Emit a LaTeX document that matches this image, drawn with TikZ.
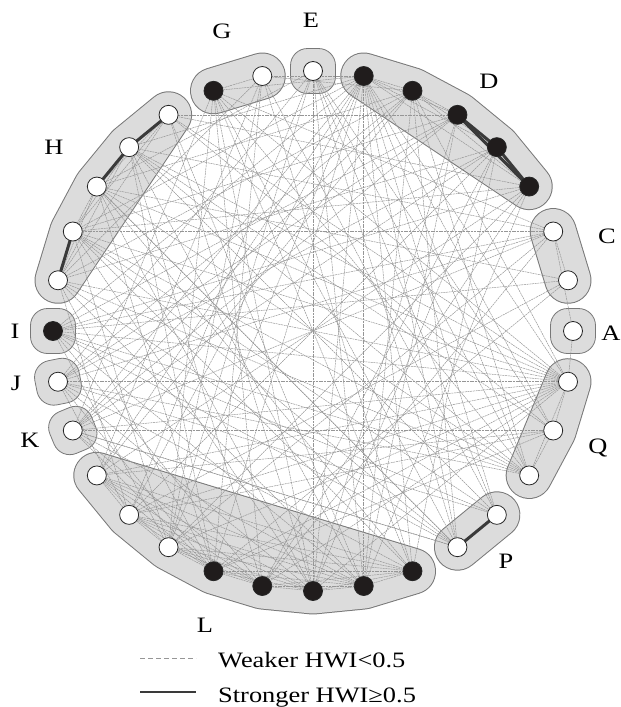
\documentclass[tikz,border=0pt]{standalone}
\usepackage{fontspec}
\setmainfont{Liberation Serif}[FakeStretch=1.2]
\definecolor{hullline}{RGB}{120,120,120}
\definecolor{hullfill}{RGB}{220,220,220}
\definecolor{edgec}{RGB}{150,150,150}
\definecolor{strongc}{RGB}{58,58,58}
\definecolor{nodeblack}{RGB}{32,28,28}
\pgfdeclarelayer{hulllayer}
\pgfdeclarelayer{edgelayer}
\pgfsetlayers{hulllayer,edgelayer,main}
\newcommand\myhulls[1]{%
  \path[#1] (n9.center) -- (n10.center) -- cycle;
  \path[#1] (n3.center) -- (n4.center) -- (n5.center) -- (n6.center) -- (n7.center) -- cycle;
  \path[#1] (n1.center) -- (n2.center) -- cycle;
  \path[#1] (n29.center) -- (n30.center) -- (n31.center) -- cycle;
  \path[#1] (n27.center) -- (n28.center) -- cycle;
  \path[#1] (n19.center) -- (n20.center) -- (n21.center) -- (n22.center) -- (n23.center) -- (n24.center) -- (n25.center) -- (n26.center) -- cycle;
  \path[#1] (n11.center) -- (n12.center) -- (n13.center) -- (n14.center) -- (n15.center) -- cycle;
}
\begin{document}
\begin{tikzpicture}[x=1pt,y=-1pt,
  vtx/.style={circle, draw=black!85, line width=0.8pt, minimum size=19pt, inner sep=0pt},
  wv/.style={vtx, fill=white},
  bv/.style={vtx, fill=nodeblack},
  weak/.style={draw=edgec, line width=0.5pt, dash pattern=on 2pt off 0.7pt},
  strong/.style={draw=strongc, line width=3pt},
  hullout/.style={draw=hullline, fill=hullline, line width=47pt, line join=round, line cap=round},
  hullin/.style={draw=hullfill, fill=hullfill, line width=45pt, line join=round, line cap=round},
  onehull/.style={shape=rectangle, draw=hullline, fill=hullfill, line width=0.8pt, rounded corners=17pt, minimum size=45pt, inner sep=0pt},
  lab/.style={font=\fontsize{22}{26}\selectfont, anchor=base, inner sep=0pt}]
\useasboundingbox (0,0) rectangle (621,707);

% vertices
\foreach \i/\s in {0/wv,1/wv,2/wv,3/bv,4/bv,5/bv,6/bv,7/bv,8/wv,9/wv,10/bv,11/wv,12/wv,13/wv,14/wv,15/wv,16/bv,17/wv,18/wv,19/wv,20/wv,21/wv,22/bv,23/bv,24/bv,25/bv,26/bv,27/wv,28/wv,29/wv,30/wv,31/wv}{
  \pgfmathsetmacro\px{313+260*cos(\i*11.25)}
  \pgfmathsetmacro\py{331-260*sin(\i*11.25)}
  \node[\s] (n\i) at (\px,\py) {};
}

% group hulls
\begin{pgfonlayer}{hulllayer}
\myhulls{hullout}
\myhulls{hullin}
\foreach \i in {0,8,16,17,18}{
  \node[onehull, rotate=\i*11.25] (h\i) at (n\i.center) {};
}
\end{pgfonlayer}

% connectors
\begin{pgfonlayer}{edgelayer}
\foreach \a/\b in {3/6,3/7,4/6,4/7,5/6,5/7,6/7,
  11/13,11/14,11/15,12/14,12/15,13/14,13/15,
  19/20,19/21,19/22,19/23,19/24,19/25,19/26,20/21,20/22,20/23,20/24,20/25,20/26,
  21/22,21/23,21/24,21/25,21/26,22/23,22/24,22/25,22/26,23/24,23/25,23/26,24/25,24/26,25/26,
  29/30,30/31,29/31,1/2,9/10,
  0/31,0/2,
  31/6,31/7,31/10,31/11,31/12,31/13,31/14,31/15,31/16,31/17,31/18,31/19,31/20,31/21,31/22,31/23,31/24,
  30/18,30/20,30/22,30/12,30/8,30/19,
  29/16,29/17,29/10,29/8,29/6,29/12,29/13,
  28/7,28/9,28/14,28/17,28/12,
  27/7,27/8,27/13,27/14,27/16,27/18,
  2/14,2/16,2/17,2/18,2/21,2/10,2/23,2/12,
  1/16,1/22,1/13,1/20,
  3/16,3/19,3/21,3/23,3/25,3/11,3/14,
  4/15,4/17,4/18,4/20,4/23,4/24,4/26,
  5/14,5/18,5/17,5/24,5/25,5/16,5/11,
  6/13,6/15,6/17,6/19,6/18,6/25,6/27,
  7/25,7/24,7/26,7/22,7/20,7/18,7/16,7/14,7/12,7/30,7/29,7/21,7/19,7/10,7/9,
  8/20,8/21,8/25,8/17,8/13,8/28,8/24,
  9/21,9/22,9/26,9/15,9/6,9/19,
  10/23,10/24,10/26,10/27,10/18,10/21,
  11/25,11/24,11/30,
  12/23,12/22,12/25,
  13/22,13/24,13/27,13/26,
  14/21,14/24,14/26,14/29,
  15/20,15/22,15/25,15/27,15/29,
  16/21,16/23,16/25,16/28,
  17/20,17/22,17/24,17/26,
  18/22,18/23,18/25,18/27}{
  \draw[weak] (n\a) -- (n\b);
}
\foreach \a/\b in {3/4,4/5,3/5,11/12,12/13,14/15,27/28}{
  \draw[strong] (n\a.center) -- (n\b.center);
}
\end{pgfonlayer}

% group labels
\node[lab] (lG) at (222,38) {G};
\node[lab] (lE) at (311,27) {E};
\node[lab] (lD) at (489,88) {D};
\node[lab] (lC) at (607,243) {C};
\node[lab] (lA) at (611,340) {A};
\node[lab] (lQ) at (598,453) {Q};
\node[lab] (lP) at (506,568) {P};
\node[lab] (lL) at (205,632) {L};
\node[lab] (lK) at (30,447) {K};
\node[lab] (lJ) at (16,390) {J};
\node[lab] (lI) at (15,338) {I};
\node[lab] (lH) at (54,154) {H};

% legend
\coordinate (lwa) at (140,658);
\coordinate (lwb) at (196,658);
\draw[draw=edgec, line width=0.9pt, dash pattern=on 5pt off 3pt] (lwa) -- (lwb);
\node[lab, anchor=base west] (lwt) at (218,667) {Weaker HWI<0.5};
\coordinate (lsa) at (140,692);
\coordinate (lsb) at (196,692);
\draw[draw=strongc, line width=1.6pt] (lsa) -- (lsb);
\node[lab, anchor=base west] (lst) at (218,702) {Stronger HWI≥0.5};
\end{tikzpicture}
\end{document}
